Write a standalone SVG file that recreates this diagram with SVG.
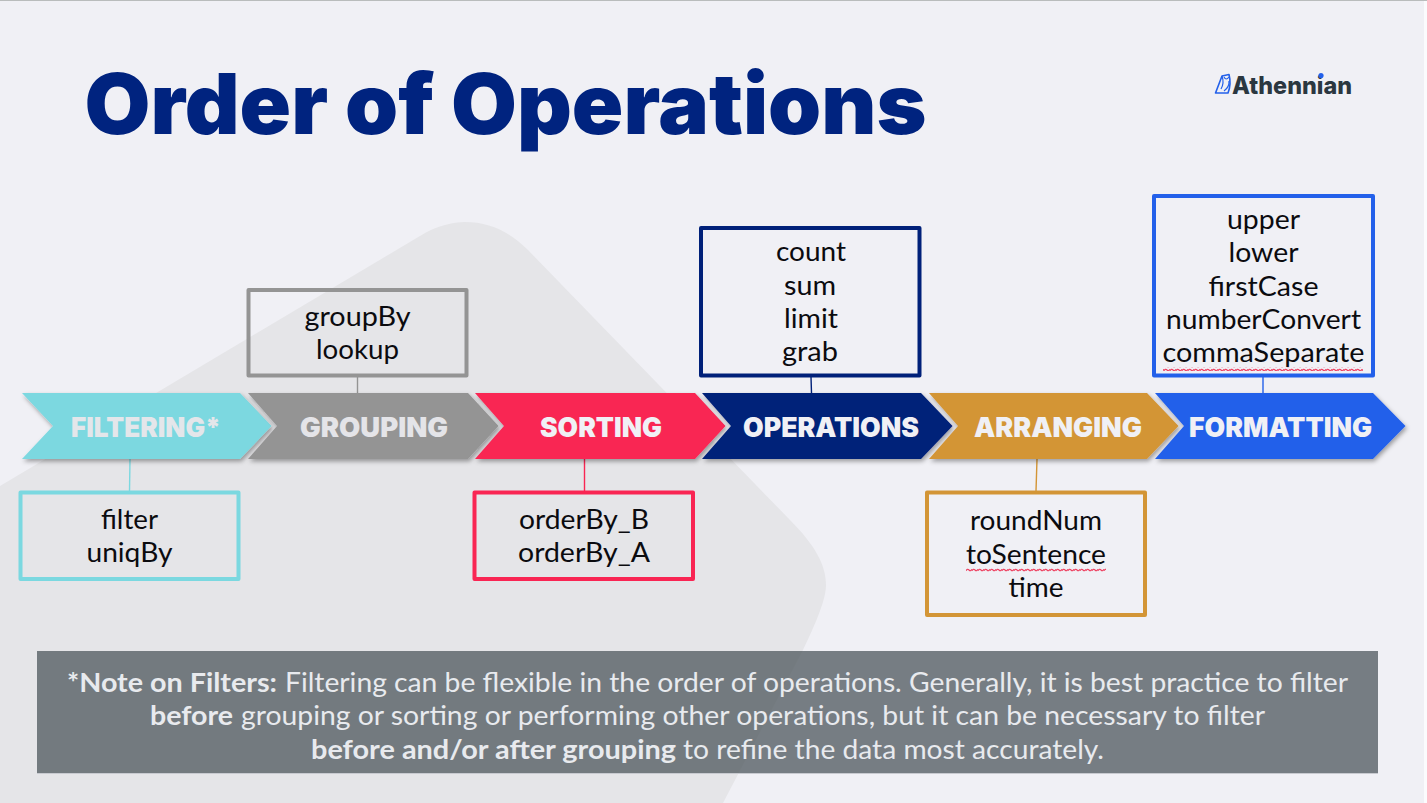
<svg xmlns="http://www.w3.org/2000/svg" width="1427" height="803" viewBox="0 0 1427 803">
<style>
.title{font-family:"Inter","Open Sans",sans-serif;font-weight:900;font-size:84px;fill:#00237f}
.chev{font-family:"Inter","Open Sans",sans-serif;font-weight:900;font-size:27px;text-anchor:middle}
.item{font-family:"Lato","Open Sans",sans-serif;font-size:27px;fill:#0b0b0f;text-anchor:middle}
.note{font-family:"Lato","Open Sans",sans-serif;font-size:26px;fill:#e8eaee}
.b{font-weight:700}
.box{stroke-width:4;fill:none;stroke-linejoin:round}
.link{stroke-width:1.4;fill:none}
.arrow{filter:url(#sh)}
</style>
<defs>
<filter id="sh" x="-5%" y="-15%" width="112%" height="135%"><feDropShadow dx="1.5" dy="2.5" stdDeviation="2" flood-color="#000" flood-opacity=".35"/></filter>
<pattern id="sq" width="6" height="4" patternUnits="userSpaceOnUse"><path d="M0 2.8Q1.5 .2 3 2Q4.500 3.800 6 1.200" fill="none" stroke="#ee4060" stroke-width="1.200"/></pattern>
</defs>
<rect width="1427" height="803" fill="#f0f0f5"/>
<rect width="1427" height="1" fill="#b9bcbc"/>
<rect x="1424" y="1" width="3" height="802" fill="#fbfbfd"/>
<path d="M0 486L425 233C438 226 452 222 465 222C490 222 510 232 528 250L790 520C815 545 826 565 826 585C826 600 815 625 803 650L723 803H0Z" fill="#e5e5e8"/>
<text class="title" x="84.500" y="134" textLength="842" lengthAdjust="spacingAndGlyphs">Order of Operations</text>
<g id="logo">
<path d="M1215.500 93L1222 76L1229 74.500Q1231.500 84 1228 93Z" fill="none" stroke="#2360ea" stroke-width="1.600" stroke-linejoin="round"/>
<path d="M1222 76Q1224.500 83 1221 89M1224 77Q1226 81 1229 77M1229 81Q1229.500 87 1224 91" fill="none" stroke="#2360ea" stroke-width="1.200"/>
<text x="1232" y="94" font-family="Inter,'Open Sans',sans-serif" font-weight="800" font-size="24" fill="#2b3740" textLength="120" lengthAdjust="spacingAndGlyphs">Athennian</text>
<circle cx="1321" cy="75.500" r="2.600" fill="#2360ea"/>
</g>
<g id="connectors">
<path class="link" stroke="#7bd8e0" d="M130 459L129.500 491"/>
<path class="link" stroke="#949494" d="M357.500 377V393"/>
<path class="link" stroke="#f92553" d="M584.500 459V491"/>
<path class="link" stroke="#002079" d="M811 377L811.500 393"/>
<path class="link" stroke="#d39536" d="M1037 459L1036 491"/>
<path class="link" stroke="#2360ea" d="M1263 377V393"/>
</g>
<g id="filtering">
<path class="arrow" d="M22 393H240L271.500 426L240 459H22L53 426Z" fill="#7bd8e0"/>
<text class="chev" x="146" y="436.500" fill="#e4e6ea" textLength="150" lengthAdjust="spacingAndGlyphs">FILTERING*</text>
<rect class="box" x="20.500" y="492.500" width="218" height="86.500" stroke="#7bd8e0"/>
<text class="item" x="129.500" y="529" textLength="57" lengthAdjust="spacingAndGlyphs">filter</text>
<text class="item" x="129.500" y="562" textLength="86" lengthAdjust="spacingAndGlyphs">uniqBy</text>
</g>
<g id="grouping">
<path class="arrow" d="M248 393H468L498.500 426L468 459H248L277 426Z" fill="#949494"/>
<text class="chev" x="374" y="437" fill="#e4e4e8" textLength="148" lengthAdjust="spacingAndGlyphs">GROUPING</text>
<rect class="box" x="248.500" y="290" width="218" height="85.500" stroke="#949494"/>
<text class="item" x="357.500" y="326" textLength="106" lengthAdjust="spacingAndGlyphs">groupBy</text>
<text class="item" x="357.500" y="359" textLength="83" lengthAdjust="spacingAndGlyphs">lookup</text>
</g>
<g id="sorting">
<path class="arrow" d="M475 393H695L725.500 426L695 459H475L504 426Z" fill="#f92553"/>
<text class="chev" x="601" y="437" fill="#f0f0f5" textLength="122" lengthAdjust="spacingAndGlyphs">SORTING</text>
<rect class="box" x="474.500" y="492.500" width="218.500" height="86.500" stroke="#f92553"/>
<text class="item" x="584" y="529" textLength="130" lengthAdjust="spacingAndGlyphs">orderBy_B</text>
<text class="item" x="584" y="562" textLength="132" lengthAdjust="spacingAndGlyphs">orderBy_A</text>
</g>
<g id="operations">
<path class="arrow" d="M702 393H921L952.500 426L921 459H702L731 426Z" fill="#002079"/>
<text class="chev" x="831" y="437" fill="#f0f0f5" textLength="176" lengthAdjust="spacingAndGlyphs">OPERATIONS</text>
<rect class="box" x="701" y="228" width="218.500" height="147.500" stroke="#002079"/>
<text class="item" x="811" y="261" textLength="70" lengthAdjust="spacingAndGlyphs">count</text>
<text class="item" x="810" y="295" textLength="52" lengthAdjust="spacingAndGlyphs">sum</text>
<text class="item" x="811" y="328" textLength="54" lengthAdjust="spacingAndGlyphs">limit</text>
<text class="item" x="810" y="361" textLength="56" lengthAdjust="spacingAndGlyphs">grab</text>
</g>
<g id="arranging">
<path class="arrow" d="M929 393H1147L1178.500 426L1147 459H929L958 426Z" fill="#d39536"/>
<text class="chev" x="1058" y="437" fill="#f0f0f5" textLength="168" lengthAdjust="spacingAndGlyphs">ARRANGING</text>
<rect class="box" x="927" y="492.500" width="218" height="122.500" stroke="#d39536"/>
<text class="item" x="1036" y="530" textLength="132" lengthAdjust="spacingAndGlyphs">roundNum</text>
<text class="item" x="1036" y="564" textLength="140" lengthAdjust="spacingAndGlyphs">toSentence</text>
<text class="item" x="1036" y="597" textLength="55" lengthAdjust="spacingAndGlyphs">time</text>
<rect x="966" y="568" width="140" height="4" fill="url(#sq)"/>
</g>
<g id="formatting">
<path class="arrow" d="M1155 393H1373L1405.500 426L1373 459H1155L1184 426Z" fill="#2360ea"/>
<text class="chev" x="1280.500" y="437" fill="#f0f0f5" textLength="183" lengthAdjust="spacingAndGlyphs">FORMATTING</text>
<rect class="box" x="1154" y="196" width="219" height="179.500" stroke="#2360ea"/>
<text class="item" x="1263.500" y="229" textLength="73" lengthAdjust="spacingAndGlyphs">upper</text>
<text class="item" x="1263.500" y="262" textLength="70" lengthAdjust="spacingAndGlyphs">lower</text>
<text class="item" x="1263.500" y="296" textLength="110" lengthAdjust="spacingAndGlyphs">firstCase</text>
<text class="item" x="1263.500" y="329" textLength="195" lengthAdjust="spacingAndGlyphs">numberConvert</text>
<text class="item" x="1263.500" y="362" textLength="202" lengthAdjust="spacingAndGlyphs">commaSeparate</text>
<rect x="1163" y="367" width="200" height="4" fill="url(#sq)"/>
</g>
<g id="note">
<rect x="37" y="651" width="1341" height="122" fill="#4c555b" opacity=".74"/>
<rect x="37" y="773" width="1341" height="1" fill="#c8cad0"/>
<text class="note b" x="67" y="692" textLength="210" lengthAdjust="spacingAndGlyphs">*Note on Filters:</text>
<text class="note" x="285" y="692" textLength="1063" lengthAdjust="spacingAndGlyphs">Filtering can be flexible in the order of operations. Generally, it is best practice to filter</text>
<text class="note b" x="150" y="725" textLength="83" lengthAdjust="spacingAndGlyphs">before</text>
<text class="note" x="241" y="725" textLength="1024" lengthAdjust="spacingAndGlyphs">grouping or sorting or performing other operations, but it can be necessary to filter</text>
<text class="note b" x="311" y="759" textLength="365" lengthAdjust="spacingAndGlyphs">before and/or after grouping</text>
<text class="note" x="683" y="759" textLength="421" lengthAdjust="spacingAndGlyphs">to refine the data most accurately.</text>
</g>
</svg>
